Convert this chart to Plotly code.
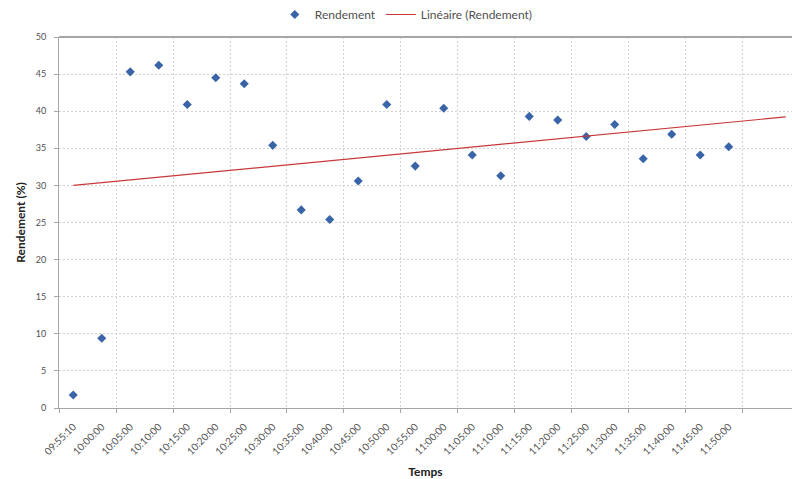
import numpy as np
import plotly.graph_objects as go

time_labels = ["09:55:10", "10:00:00", "10:05:00", "10:10:00", "10:15:00", "10:20:00",
               "10:25:00", "10:30:00", "10:35:00", "10:40:00", "10:45:00", "10:50:00",
               "10:55:00", "11:00:00", "11:05:00", "11:10:00", "11:15:00", "11:20:00",
               "11:25:00", "11:30:00", "11:35:00", "11:40:00", "11:45:00", "11:50:00"]
rendement = [1.75, 9.4, 45.3, 46.2, 40.9, 44.5, 43.7, 35.4, 26.7, 25.4, 30.6, 40.9,
             32.6, 40.4, 34.1, 31.3, 39.3, 38.8, 36.6, 38.2, 33.6, 36.9, 34.1, 35.2]
forecast_periods = 2

idx = np.arange(len(rendement))
slope, intercept = np.polyfit(idx, rendement, 1)
trend_x = [0, len(rendement) - 1 + forecast_periods]
trend_y = [intercept + slope * x for x in trend_x]

fig = go.Figure()
fig.add_trace(go.Scatter(
    x=idx, y=rendement, mode="markers", name="Rendement",
    marker=dict(symbol="diamond", size=7, color="#3A64A8"),
))
fig.add_trace(go.Scatter(
    x=trend_x, y=trend_y, mode="lines", name="Linéaire (Rendement)",
    line=dict(color="#C83838", width=1.2),
))

font = "Lato, 'Liberation Sans', sans-serif"
grid_dash = "2px,2px"
grid_color = "#d2d2d2"
fig.update_layout(
    width=792, height=479,
    margin=dict(l=59, r=0, t=37, b=71),
    paper_bgcolor="white", plot_bgcolor="white",
    font=dict(family=font, size=10, color="#404040"),
    showlegend=True,
    legend=dict(orientation="h", xref="container", yref="container",
                x=0.513, xanchor="center", y=1.0, yanchor="top",
                font=dict(size=12, color="#505050"), itemwidth=30,
                bgcolor="rgba(0,0,0,0)"),
    xaxis=dict(
        range=[-0.5, 25.22], tickmode="array", tickvals=list(idx), ticktext=time_labels,
        tickangle=-45, ticks="", showgrid=False, zeroline=False,
        showline=True, linecolor="#a6a6a6", linewidth=1, mirror=False,
        tickfont=dict(size=10, color="#505050"), ticklabelstandoff=8,
        minor=dict(tickmode="linear", tick0=-0.5, dtick=2, showgrid=True,
                   gridcolor=grid_color, griddash=grid_dash, gridwidth=1,
                   ticks="outside", ticklen=4, tickcolor="#a6a6a6"),
        title=dict(text="<b>Temps</b>", font=dict(size=12, color="#202020"), standoff=12),
    ),
    yaxis=dict(
        range=[0, 50], dtick=5, tick0=0, ticks="outside", ticklen=4, tickcolor="#a6a6a6",
        showgrid=True, gridcolor=grid_color, griddash=grid_dash, gridwidth=1,
        zeroline=False, showline=True, linecolor="#a6a6a6", linewidth=1,
        tickfont=dict(size=9, color="#505050"), ticklabelstandoff=6,
        title=dict(text="<b>Rendement (%)</b>", font=dict(size=12, color="#202020"), standoff=7),
    ),
    shapes=[dict(type="line", xref="paper", yref="paper", x0=0, x1=1, y0=1, y1=1,
                 line=dict(color="#a6a6a6", width=2))],
)

fig.write_html("out.html")
